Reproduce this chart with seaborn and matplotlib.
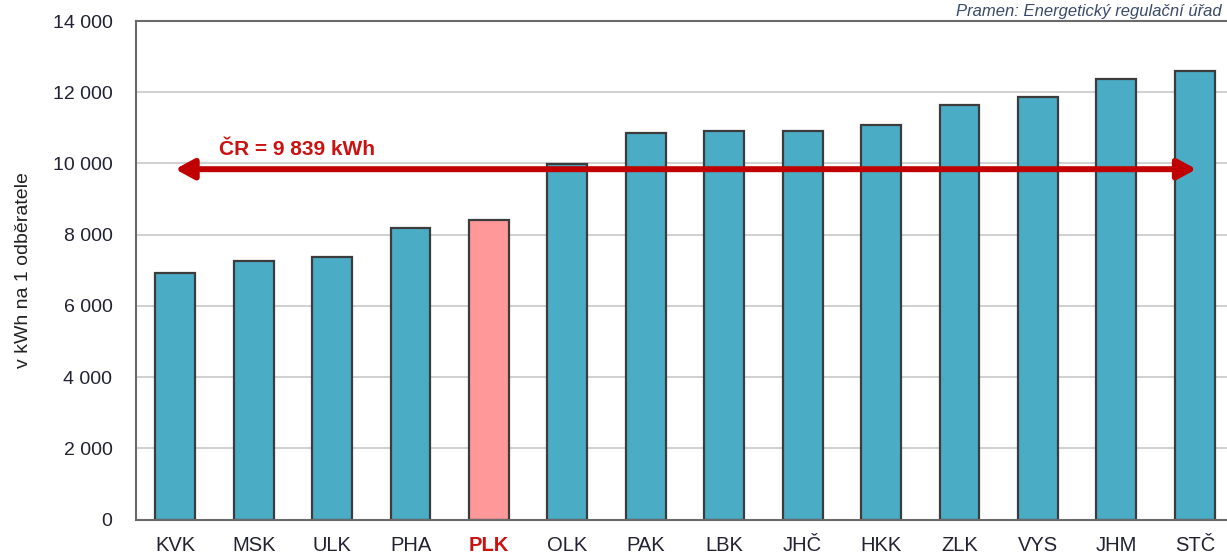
import matplotlib
matplotlib.use("Agg")
import matplotlib.pyplot as plt
import seaborn as sns
import numpy as np
from matplotlib.patches import FancyArrowPatch

regions = ["KVK", "MSK", "ULK", "PHA", "PLK", "OLK", "PAK", "LBK", "JHČ", "HKK", "ZLK", "VYS", "JHM", "STČ"]
values = [6920, 7260, 7370, 8200, 8425, 9975, 10865, 10915, 10915, 11085, 11645, 11860, 12370, 12600]
highlight = "PLK"
cr_value = 9839
cr_label = "ČR = 9 839 kWh"
yticks = [0, 2000, 4000, 6000, 8000, 10000, 12000, 14000]
ytick_labels = ["0", "2 000", "4 000", "6 000", "8 000", "10 000", "12 000", "14 000"]
ylabel = "v kWh na 1 odběratele"
source = "Pramen: Energetický regulační úřad"

sns.set_style("white")
plt.rcParams["font.family"] = ["Liberation Sans", "DejaVu Sans"]

W, H = 1227, 555
fig = plt.figure(figsize=(W / 100, H / 100), dpi=100)
ax = fig.add_axes([136 / W, 1 - 519.6 / H, (1234 - 136) / W, (519.6 - 21) / H])

palette = {r: ("#FF9999" if r == highlight else "#4BACC6") for r in regions}
sns.barplot(x=regions, y=values, hue=regions, palette=palette, legend=False,
            width=0.51, edgecolor="#3C3C3C", linewidth=1.6, saturation=1, ax=ax)

ax.set_xlim(-0.5, len(regions) - 0.5)
ax.set_ylim(0, 14000)
ax.set_yticks(yticks)
ax.set_yticklabels(ytick_labels)
ax.yaxis.grid(True, color="#C8C8C8", linewidth=1.2)
ax.set_axisbelow(True)

for side in ["left", "top", "bottom"]:
    ax.spines[side].set_visible(True)
    ax.spines[side].set_color("#6A6A6A")
    ax.spines[side].set_linewidth(1.5)
ax.spines["right"].set_visible(False)

ax.tick_params(axis="y", direction="in", length=4, color="#888888", pad=17,
               labelsize=14, labelcolor="#222233")
ax.tick_params(axis="x", length=0, pad=12, labelsize=14.5, labelcolor="#222233")
for lbl in ax.get_xticklabels():
    if lbl.get_text() == highlight:
        lbl.set_color("#CC1111")
        lbl.set_fontweight("bold")

ax.set_xlabel("")
ax.set_ylabel(ylabel, fontsize=14, color="#222222", labelpad=14)
ax.yaxis.set_label_coords(-104 / (1234 - 136), 0.5)

arrow = FancyArrowPatch((0.0, cr_value), (len(regions) - 1 + 0.02, cr_value),
                        arrowstyle="<|-|>,head_length=5.5,head_width=3",
                        mutation_scale=2, color="#C00000", linewidth=4.3,
                        shrinkA=0, shrinkB=0, zorder=5)
ax.add_patch(arrow)
ax.text(0.56, cr_value + 560, cr_label, color="#CC1111", fontsize=15,
        fontweight="bold", ha="left", va="center", zorder=6)

fig.text(1222 / W, 1 - 4 / H, source, fontsize=12, style="italic",
         color="#3A4A6A", ha="right", va="top")

fig.savefig("out.png", dpi=100)
